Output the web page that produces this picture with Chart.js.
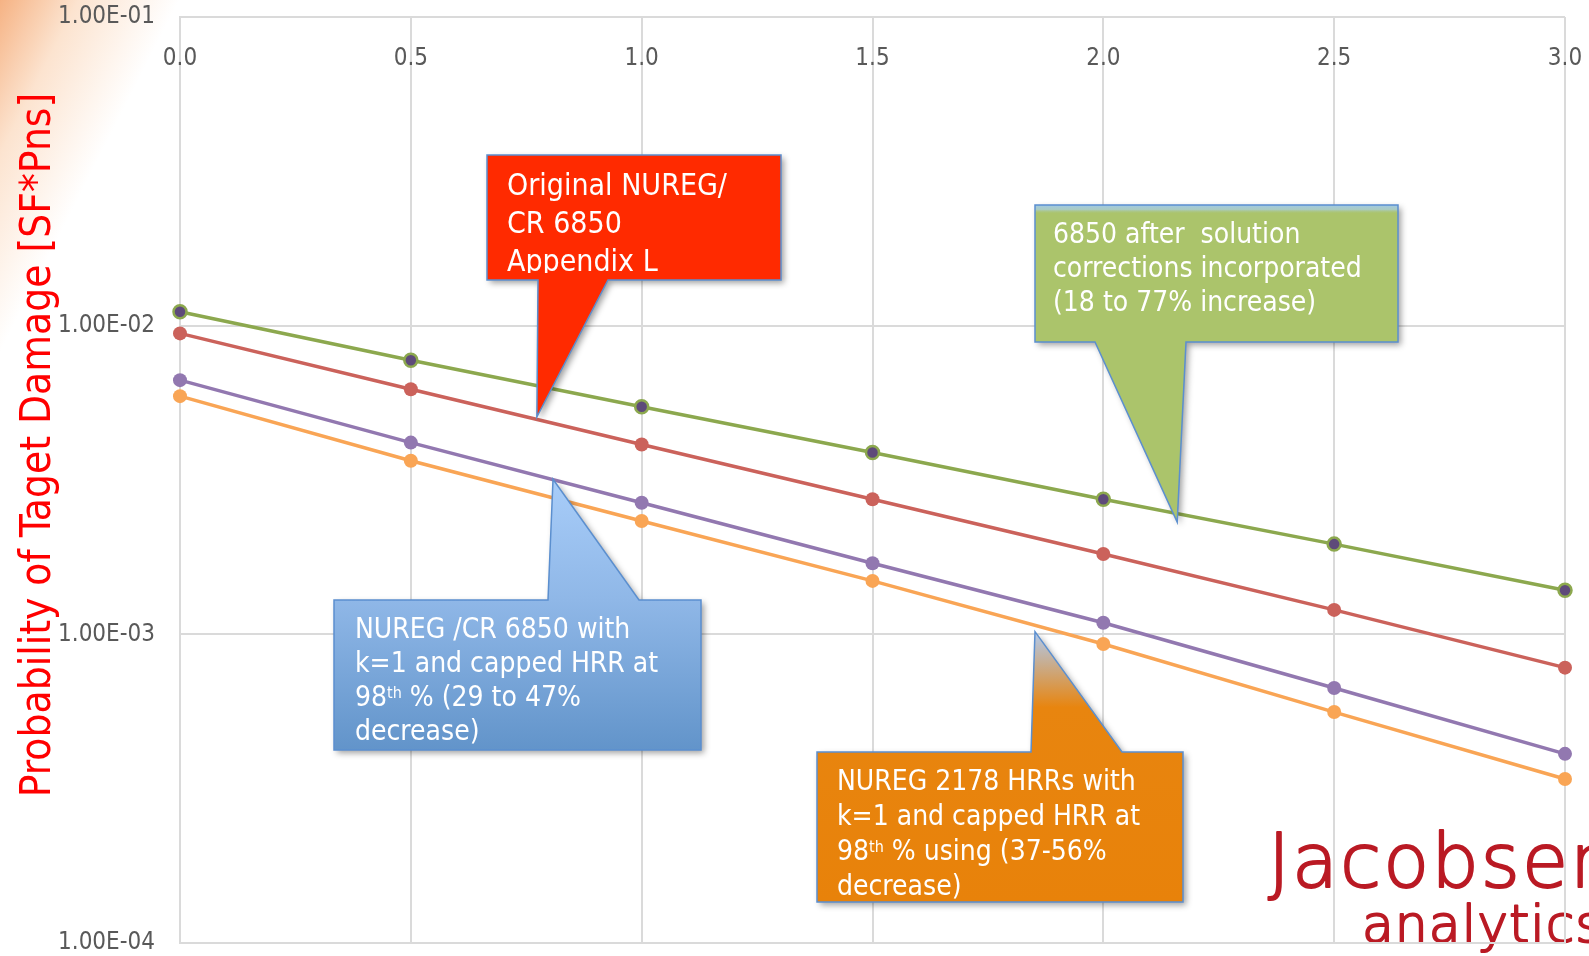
<!DOCTYPE html>
<html>
<head>
<meta charset="utf-8">
<script src="https://cdn.jsdelivr.net/npm/chart.js@4.4.1/dist/chart.umd.min.js"></script>
<style>
  html, body { margin: 0; padding: 0; }
  body {
    width: 1589px; height: 956px; overflow: hidden; position: relative;
    background:
      linear-gradient(117deg, rgba(244,165,110,0.85) 0px, rgba(249,200,160,0.5) 70px, rgba(255,255,255,0) 160px) no-repeat,
      #ffffff;
  }
  #chart { position: absolute; left: 0; top: 0; }
</style>
</head>
<body>
<canvas id="chart" width="1589" height="956"></canvas>
<script>
// Stand-off distance (x axis) and the four damage-probability curves
const xValues = [0.0, 0.5, 1.0, 1.5, 2.0, 2.5, 3.0];
const corrected6850 = [0.01109, 0.00773, 0.00546, 0.00388, 0.00274, 0.00196, 0.00139];
const original6850  = [0.00944, 0.00622, 0.00412, 0.00274, 0.00182, 0.00120, 0.00078];
const capped6850    = [0.00666, 0.00418, 0.00267, 0.00170, 0.00109, 0.00067, 0.00041];
const nureg2178     = [0.00591, 0.00365, 0.00233, 0.00149, 0.00093, 0.00056, 0.00034];
const yTickValues = [1e-4, 1e-3, 1e-2, 1e-1];
const xTickValues = [0.0, 0.5, 1.0, 1.5, 2.0, 2.5, 3.0];
const yAxisTitle = 'Probability of Taget Damage [SF*Pns]';

const FONT = '"DejaVu Sans Condensed", "DejaVu Sans", sans-serif';
const LOGO_FONT = '"DejaVu Sans ExtraLight", "DejaVu Sans", sans-serif';
const GRID = '#DADADA';
const TICK_COLOR = '#595959';

function sciLabel(v) {
  const e = Math.round(Math.log10(v));
  const m = v / Math.pow(10, e);
  return m.toFixed(2) + 'E' + (e < 0 ? '-' : '+') + String(Math.abs(e)).padStart(2, '0');
}

function series(values) {
  return xValues.map((x, i) => ({ x: x, y: values[i] }));
}

// Speech-bubble callouts: box in canvas pixels, tail tip anchored in data space
const callouts = [
  {
    box: [487, 155, 781, 280], tailSide: 'bottom', tailBase: [538, 608],
    tip: { x: 0.773, y: 0.00506 },
    fill: () => '#FF2A00',
    lines: ['Original NUREG/', 'CR 6850', 'Appendix L'],
    textX: 507, baseline: 195, lineHeight: 38, size: 30, clipBottom: 273
  },
  {
    box: [1035, 205, 1398, 342], tailSide: 'bottom', tailBase: [1095, 1186],
    tip: { x: 2.16, y: 0.00231 },
    fill: () => '#ABC46B', topStrip: true,
    lines: ['6850 after  solution', 'corrections incorporated', '(18 to 77% increase)'],
    textX: 1053, baseline: 243, lineHeight: 34, size: 28
  },
  {
    box: [334, 600, 701, 750], tailSide: 'top', tailBase: [548, 639],
    tip: { x: 0.808, y: 0.00318 },
    fill: (ctx, tipY) => {
      const g = ctx.createLinearGradient(0, tipY, 0, 750);
      g.addColorStop(0, '#A8CDF9');
      g.addColorStop(0.45, '#8FB7E7');
      g.addColorStop(1, '#6294CA');
      return g;
    },
    lines: ['NUREG /CR 6850 with', 'k=1 and capped HRR at', '98^th % (29 to 47%', 'decrease)'],
    textX: 355, baseline: 638, lineHeight: 34, size: 28
  },
  {
    box: [817, 752, 1183, 902], tailSide: 'top', tailBase: [1031, 1122],
    tip: { x: 1.852, y: 0.00102 },
    fill: (ctx, tipY) => {
      const g = ctx.createLinearGradient(0, tipY, 0, 902);
      g.addColorStop(0, '#B0CAEE');
      g.addColorStop(0.28, '#E8850F');
      g.addColorStop(1, '#E8820A');
      return g;
    },
    lines: ['NUREG 2178 HRRs with', 'k=1 and capped HRR at', '98^th % using (37-56%', 'decrease)'],
    textX: 837, baseline: 790, lineHeight: 35, size: 28
  }
];

function drawRichLine(ctx, text, x, y, size) {
  const parts = text.split(/\^(\w+)/);
  let cx = x;
  parts.forEach((p, i) => {
    if (!p) return;
    if (i % 2 === 1) {
      const s = Math.round(size * 0.58);
      ctx.font = s + 'px ' + FONT;
      ctx.fillText(p, cx, y - size * 0.3);
      cx += ctx.measureText(p).width;
    } else {
      ctx.font = size + 'px ' + FONT;
      ctx.fillText(p, cx, y);
      cx += ctx.measureText(p).width;
    }
  });
}

const backdropPlugin = {
  id: 'backdrop',
  beforeDraw(chart) {
    const ctx = chart.ctx;
    ctx.save();
    ctx.fillStyle = '#BA1A24';
    ctx.strokeStyle = '#BA1A24';
    ctx.lineWidth = 2;
    ctx.lineJoin = 'round';
    ctx.textAlign = 'left';
    ctx.textBaseline = 'alphabetic';
    ctx.letterSpacing = '2px';
    ctx.font = '200 75px ' + LOGO_FONT;
    ctx.fillText('Jacobsen', 1268, 887);
    ctx.strokeText('Jacobsen', 1268, 887);
    ctx.letterSpacing = '1px';
    ctx.font = '200 52px ' + LOGO_FONT;
    ctx.fillText('analytics', 1362, 942);
    ctx.strokeText('analytics', 1362, 942);
    ctx.restore();
  }
};

const overlayPlugin = {
  id: 'overlay',
  afterDraw(chart) {
    const ctx = chart.ctx;
    const xs = chart.scales.x, ys = chart.scales.y;
    const area = chart.chartArea;

    // x tick labels sit just inside the top of the plot
    ctx.save();
    ctx.fillStyle = TICK_COLOR;
    ctx.font = '24px ' + FONT;
    ctx.textAlign = 'center';
    ctx.textBaseline = 'middle';
    xTickValues.forEach(v => {
      ctx.fillText(v.toFixed(1), xs.getPixelForValue(v), area.top + 42);
    });
    ctx.restore();

    // rotated y axis title
    ctx.save();
    ctx.translate(50, 445);
    ctx.rotate(-Math.PI / 2);
    ctx.fillStyle = '#FF0000';
    ctx.font = '42px ' + FONT;
    ctx.textAlign = 'center';
    ctx.textBaseline = 'alphabetic';
    ctx.fillText(yAxisTitle, 0, 0);
    ctx.restore();

    // callouts
    callouts.forEach(c => {
      const [l, t, r, b] = c.box;
      const tx = xs.getPixelForValue(c.tip.x);
      const ty = ys.getPixelForValue(c.tip.y);
      const path = new Path2D();
      path.moveTo(l, t);
      if (c.tailSide === 'top') {
        path.lineTo(c.tailBase[0], t);
        path.lineTo(tx, ty);
        path.lineTo(c.tailBase[1], t);
      }
      path.lineTo(r, t);
      path.lineTo(r, b);
      if (c.tailSide === 'bottom') {
        path.lineTo(c.tailBase[1], b);
        path.lineTo(tx, ty);
        path.lineTo(c.tailBase[0], b);
      }
      path.lineTo(l, b);
      path.closePath();

      ctx.save();
      ctx.shadowColor = 'rgba(0,0,0,0.38)';
      ctx.shadowBlur = 6;
      ctx.shadowOffsetX = 3;
      ctx.shadowOffsetY = 3;
      ctx.fillStyle = c.fill(ctx, ty);
      ctx.fill(path);
      ctx.restore();

      if (c.topStrip) {
        ctx.save();
        const g = ctx.createLinearGradient(0, t, 0, t + 9);
        g.addColorStop(0, 'rgba(160,200,228,1)');
        g.addColorStop(0.5, 'rgba(170,205,215,0.8)');
        g.addColorStop(1, 'rgba(171,196,107,0)');
        ctx.fillStyle = g;
        ctx.fillRect(l, t, r - l, 9);
        ctx.restore();
      }

      ctx.save();
      ctx.strokeStyle = '#5B8FCF';
      ctx.lineWidth = 1.5;
      ctx.stroke(path);
      ctx.restore();

      ctx.save();
      ctx.beginPath();
      ctx.rect(l, t, r - l, (c.clipBottom || b) - t);
      ctx.clip();
      ctx.fillStyle = '#FFFFFF';
      ctx.textAlign = 'left';
      ctx.textBaseline = 'alphabetic';
      c.lines.forEach((line, i) => {
        drawRichLine(ctx, line, c.textX, c.baseline + i * c.lineHeight, c.size);
      });
      ctx.restore();
    });
  }
};

function lineSet(label, values, color, extra) {
  return Object.assign({
    label: label,
    data: series(values),
    borderColor: color,
    backgroundColor: color,
    borderWidth: 3.5,
    pointRadius: 7,
    pointHoverRadius: 7,
    pointBackgroundColor: color,
    pointBorderColor: color,
    pointBorderWidth: 0,
    tension: 0,
    clip: false,
    fill: false
  }, extra || {});
}

new Chart(document.getElementById('chart'), {
  type: 'line',
  data: {
    datasets: [
      lineSet('NUREG 2178 HRRs, k=1, capped HRR', nureg2178, '#F9A555'),
      lineSet('NUREG/CR 6850, k=1, capped HRR', capped6850, '#9278B0'),
      lineSet('Original NUREG/CR 6850 Appendix L', original6850, '#CB625B'),
      lineSet('6850 after solution corrections', corrected6850, '#8CA84E', {
        pointBackgroundColor: '#5E4A7A',
        pointBorderColor: '#8CA84E',
        pointBorderWidth: 2.5,
        pointRadius: 6.5
      })
    ]
  },
  options: {
    responsive: false,
    animation: false,
    devicePixelRatio: 1,
    layout: { padding: { top: 17, right: 24, bottom: 13, left: 0 } },
    plugins: { legend: { display: false }, tooltip: { enabled: false } },
    scales: {
      x: {
        type: 'linear',
        position: 'bottom',
        min: 0, max: 3,
        afterBuildTicks(scale) { scale.ticks = xTickValues.map(v => ({ value: v })); },
        afterFit(scale) {
          scale.height = 0;
          scale.paddingLeft = 0; scale.paddingRight = 0;
          scale.paddingTop = 0; scale.paddingBottom = 0;
        },
        ticks: { display: false },
        grid: { color: GRID, lineWidth: 2, drawTicks: false },
        border: { color: GRID, width: 2 }
      },
      y: {
        type: 'logarithmic',
        min: 1e-4, max: 1e-1,
        afterBuildTicks(scale) { scale.ticks = yTickValues.map(v => ({ value: v, major: true })); },
        afterFit(scale) {
          scale.width = 180;
          scale.paddingTop = 0; scale.paddingBottom = 0;
          scale.paddingLeft = 0; scale.paddingRight = 0;
        },
        ticks: {
          color: TICK_COLOR,
          font: { family: FONT, size: 24 },
          padding: 25,
          autoSkip: false,
          callback: (v) => sciLabel(v)
        },
        grid: { color: GRID, lineWidth: 2, drawTicks: false },
        border: { color: GRID, width: 2 }
      }
    }
  },
  plugins: [backdropPlugin, overlayPlugin]
});
</script>
</body>
</html>
